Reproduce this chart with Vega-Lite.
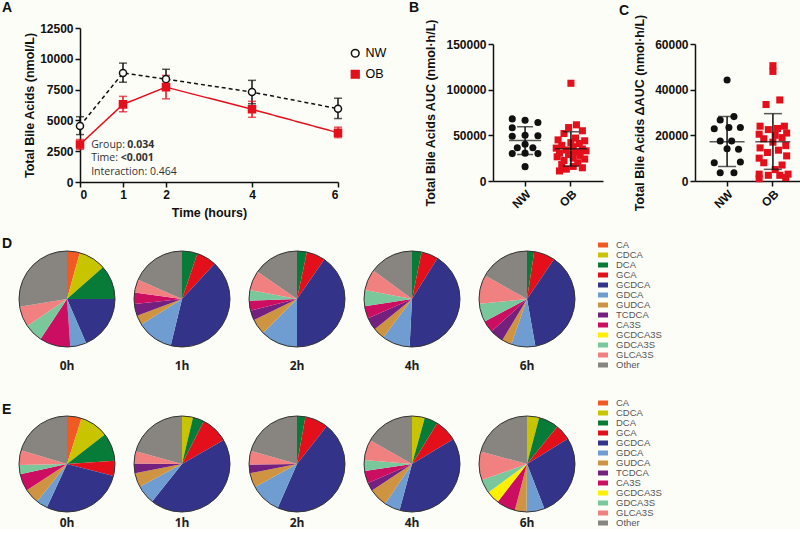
{
"$schema": "https://vega.github.io/schema/vega-lite/v6.json",
"background": "#fdfdf8",
"padding": {"left": 2, "top": 0, "right": 2, "bottom": 0},
"datasets": {
"a": [
{"g":"NW","t":0,"m":4550,"lo":3850,"hi":5300},
{"g":"NW","t":1,"m":8850,"lo":8100,"hi":9650},
{"g":"NW","t":2,"m":8350,"lo":7550,"hi":9150},
{"g":"NW","t":4,"m":7300,"lo":6350,"hi":8250},
{"g":"NW","t":6,"m":5950,"lo":5150,"hi":6800},
{"g":"OB","t":0,"m":3050,"lo":2650,"hi":3450},
{"g":"OB","t":1,"m":6300,"lo":5700,"hi":6950},
{"g":"OB","t":2,"m":7700,"lo":6750,"hi":8650},
{"g":"OB","t":4,"m":5900,"lo":5250,"hi":6550},
{"g":"OB","t":6,"m":4000,"lo":3600,"hi":4450}
],
"annoN": [
{"t":0.26,"v":3000,"txt":"Group:"},
{"t":0.26,"v":1950,"txt":"Time:"},
{"t":0.26,"v":810,"txt":"Interaction: 0.464"}
],
"annoB": [
{"t":1.1,"v":3000,"txt":"0.034"},
{"t":0.95,"v":1950,"txt":"<0.001"}
],
"bp": [
{"g":"NW","v":68000,"j":-0.28},{"g":"NW","v":66500,"j":0},{"g":"NW","v":64000,"j":0.28},
{"g":"NW","v":58400,"j":-0.28},{"g":"NW","v":49000,"j":-0.28},{"g":"NW","v":50000,"j":0},
{"g":"NW","v":49500,"j":0.28},{"g":"NW","v":36500,"j":-0.17},{"g":"NW","v":40200,"j":0},
{"g":"NW","v":36500,"j":0.17},{"g":"NW","v":30000,"j":-0.28},{"g":"NW","v":30500,"j":0},
{"g":"NW","v":30000,"j":0.28},{"g":"NW","v":15700,"j":0},
{"g":"OB","v":107000,"j":0},{"g":"OB","v":61500,"j":0.12},{"g":"OB","v":58500,"j":-0.05},
{"g":"OB","v":55000,"j":0.25},{"g":"OB","v":52000,"j":-0.15},{"g":"OB","v":47000,"j":0.1},
{"g":"OB","v":45000,"j":-0.28},{"g":"OB","v":44000,"j":0.3},{"g":"OB","v":42000,"j":0},
{"g":"OB","v":41000,"j":0.18},{"g":"OB","v":39000,"j":-0.2},{"g":"OB","v":37500,"j":0.05},
{"g":"OB","v":36000,"j":-0.32},{"g":"OB","v":35000,"j":0.25},{"g":"OB","v":34000,"j":-0.1},
{"g":"OB","v":33000,"j":0.33},{"g":"OB","v":31500,"j":0.1},{"g":"OB","v":30500,"j":-0.25},
{"g":"OB","v":29000,"j":-0.05},{"g":"OB","v":28000,"j":0.2},{"g":"OB","v":26500,"j":-0.3},
{"g":"OB","v":25000,"j":0.05},{"g":"OB","v":24000,"j":0.3},{"g":"OB","v":22500,"j":-0.15},
{"g":"OB","v":20000,"j":0.15},{"g":"OB","v":18000,"j":-0.2},{"g":"OB","v":16000,"j":0.05},
{"g":"OB","v":14500,"j":0.25},{"g":"OB","v":13000,"j":-0.1},{"g":"OB","v":11000,"j":-0.25}
],
"bs": [
{"g":"NW","m":44300,"lo":28900,"hi":59500},
{"g":"OB","m":35400,"lo":16300,"hi":53900}
],
"cp": [
{"g":"NW","v":44200,"j":0},{"g":"NW","v":28200,"j":0.15},{"g":"NW","v":26700,"j":-0.15},
{"g":"NW","v":23400,"j":0.04},{"g":"NW","v":23400,"j":0.29},{"g":"NW","v":22900,"j":-0.28},
{"g":"NW","v":17500,"j":-0.15},{"g":"NW","v":17500,"j":0.1},{"g":"NW","v":14100,"j":0},
{"g":"NW","v":13900,"j":0.25},{"g":"NW","v":8000,"j":-0.28},{"g":"NW","v":8300,"j":0.29},
{"g":"NW","v":3650,"j":-0.15},{"g":"NW","v":3650,"j":0.15},
{"g":"OB","v":50500,"j":0},{"g":"OB","v":48000,"j":0},{"g":"OB","v":35500,"j":0.15},
{"g":"OB","v":33500,"j":-0.15},{"g":"OB","v":24000,"j":-0.28},{"g":"OB","v":24000,"j":0.25},
{"g":"OB","v":23000,"j":0.1},{"g":"OB","v":22500,"j":-0.1},{"g":"OB","v":21000,"j":0.3},
{"g":"OB","v":20500,"j":-0.3},{"g":"OB","v":20000,"j":0.05},{"g":"OB","v":19000,"j":0.2},
{"g":"OB","v":18500,"j":-0.2},{"g":"OB","v":17000,"j":0},{"g":"OB","v":15500,"j":0.28},
{"g":"OB","v":14500,"j":-0.28},{"g":"OB","v":13500,"j":0.12},{"g":"OB","v":12500,"j":-0.12},
{"g":"OB","v":11000,"j":0.3},{"g":"OB","v":10000,"j":-0.3},{"g":"OB","v":8000,"j":-0.2},
{"g":"OB","v":7000,"j":0.2},{"g":"OB","v":5000,"j":0.05},{"g":"OB","v":3000,"j":-0.3},
{"g":"OB","v":3000,"j":0.33},{"g":"OB","v":2500,"j":-0.1},{"g":"OB","v":2500,"j":0.15},
{"g":"OB","v":1000,"j":-0.3},{"g":"OB","v":1500,"j":0.28}
],
"cs": [
{"g":"NW","m":17200,"lo":6300,"hi":28300},
{"g":"OB","m":17200,"lo":5100,"hi":29500}
],
"pd": [
{"t":"0h","b":"CA","k":1,"p":4.3},{"t":"0h","b":"CDCA","k":2,"p":9.2},{"t":"0h","b":"DCA","k":3,"p":11.5},{"t":"0h","b":"GCDCA","k":5,"p":18.5},{"t":"0h","b":"GDCA","k":6,"p":5.4},{"t":"0h","b":"CA3S","k":9,"p":10.4},{"t":"0h","b":"GDCA3S","k":11,"p":6.2},{"t":"0h","b":"GLCA3S","k":12,"p":6.9},{"t":"0h","b":"Other","k":13,"p":27.6},
{"t":"1h","b":"DCA","k":3,"p":5.2},{"t":"1h","b":"GCA","k":4,"p":6.7},{"t":"1h","b":"GCDCA","k":5,"p":41.9},{"t":"1h","b":"GDCA","k":6,"p":12.3},{"t":"1h","b":"GUDCA","k":7,"p":3.2},{"t":"1h","b":"TCDCA","k":8,"p":4.0},{"t":"1h","b":"CA3S","k":9,"p":3.9},{"t":"1h","b":"GLCA3S","k":12,"p":4.4},{"t":"1h","b":"Other","k":13,"p":18.4},
{"t":"2h","b":"DCA","k":3,"p":3.3},{"t":"2h","b":"GCA","k":4,"p":6.3},{"t":"2h","b":"GCDCA","k":5,"p":40.4},{"t":"2h","b":"GDCA","k":6,"p":12.5},{"t":"2h","b":"GUDCA","k":7,"p":5.3},{"t":"2h","b":"TCDCA","k":8,"p":3.3},{"t":"2h","b":"CA3S","k":9,"p":3.3},{"t":"2h","b":"GDCA3S","k":11,"p":3.6},{"t":"2h","b":"GLCA3S","k":12,"p":6.6},{"t":"2h","b":"Other","k":13,"p":15.4},
{"t":"4h","b":"DCA","k":3,"p":3.2},{"t":"4h","b":"GCA","k":4,"p":5.7},{"t":"4h","b":"GCDCA","k":5,"p":41.9},{"t":"4h","b":"GDCA","k":6,"p":9.4},{"t":"4h","b":"GUDCA","k":7,"p":4.0},{"t":"4h","b":"TCDCA","k":8,"p":4.2},{"t":"4h","b":"CA3S","k":9,"p":4.2},{"t":"4h","b":"GDCA3S","k":11,"p":5.4},{"t":"4h","b":"GLCA3S","k":12,"p":7.1},{"t":"4h","b":"Other","k":13,"p":14.9},
{"t":"6h","b":"DCA","k":3,"p":2.4},{"t":"6h","b":"GCA","k":4,"p":7.1},{"t":"6h","b":"GCDCA","k":5,"p":37.7},{"t":"6h","b":"GDCA","k":6,"p":8.1},{"t":"6h","b":"GUDCA","k":7,"p":3.3},{"t":"6h","b":"TCDCA","k":8,"p":4.6},{"t":"6h","b":"CA3S","k":9,"p":4.0},{"t":"6h","b":"GDCA3S","k":11,"p":6.2},{"t":"6h","b":"GLCA3S","k":12,"p":9.7},{"t":"6h","b":"Other","k":13,"p":16.9}
],
"pe": [
{"t":"0h","b":"CA","k":1,"p":4.9},{"t":"0h","b":"CDCA","k":2,"p":9.6},{"t":"0h","b":"DCA","k":3,"p":9.4},{"t":"0h","b":"GCA","k":4,"p":5.1},{"t":"0h","b":"GCDCA","k":5,"p":27.9},{"t":"0h","b":"GDCA","k":6,"p":3.8},{"t":"0h","b":"GUDCA","k":7,"p":5.1},{"t":"0h","b":"CA3S","k":9,"p":5.8},{"t":"0h","b":"GDCA3S","k":11,"p":3.1},{"t":"0h","b":"GLCA3S","k":12,"p":4.9},{"t":"0h","b":"Other","k":13,"p":20.4},
{"t":"1h","b":"CDCA","k":2,"p":3.7},{"t":"1h","b":"DCA","k":3,"p":3.8},{"t":"1h","b":"GCA","k":4,"p":9.2},{"t":"1h","b":"GCDCA","k":5,"p":44.0},{"t":"1h","b":"GDCA","k":6,"p":6.4},{"t":"1h","b":"GUDCA","k":7,"p":4.8},{"t":"1h","b":"TCDCA","k":8,"p":3.3},{"t":"1h","b":"GLCA3S","k":12,"p":4.1},{"t":"1h","b":"Other","k":13,"p":20.7},
{"t":"2h","b":"DCA","k":3,"p":2.8},{"t":"2h","b":"GCA","k":4,"p":7.8},{"t":"2h","b":"GCDCA","k":5,"p":46.0},{"t":"2h","b":"GDCA","k":6,"p":10.4},{"t":"2h","b":"GUDCA","k":7,"p":4.9},{"t":"2h","b":"TCDCA","k":8,"p":2.9},{"t":"2h","b":"GLCA3S","k":12,"p":4.6},{"t":"2h","b":"Other","k":13,"p":20.6},
{"t":"4h","b":"CDCA","k":2,"p":4.3},{"t":"4h","b":"DCA","k":3,"p":4.5},{"t":"4h","b":"GCA","k":4,"p":7.6},{"t":"4h","b":"GCDCA","k":5,"p":37.8},{"t":"4h","b":"GDCA","k":6,"p":5.3},{"t":"4h","b":"GUDCA","k":7,"p":6.2},{"t":"4h","b":"TCDCA","k":8,"p":2.8},{"t":"4h","b":"CA3S","k":9,"p":4.2},{"t":"4h","b":"GDCA3S","k":11,"p":3.6},{"t":"4h","b":"GLCA3S","k":12,"p":6.9},{"t":"4h","b":"Other","k":13,"p":16.8},
{"t":"6h","b":"CDCA","k":2,"p":4.1},{"t":"6h","b":"DCA","k":3,"p":6.7},{"t":"6h","b":"GCA","k":4,"p":5.4},{"t":"6h","b":"GCDCA","k":5,"p":27.9},{"t":"6h","b":"GDCA","k":6,"p":6.1},{"t":"6h","b":"GUDCA","k":7,"p":3.9},{"t":"6h","b":"CA3S","k":9,"p":6.4},{"t":"6h","b":"GCDCA3S","k":10,"p":4.4},{"t":"6h","b":"GDCA3S","k":11,"p":4.7},{"t":"6h","b":"GLCA3S","k":12,"p":9.6},{"t":"6h","b":"Other","k":13,"p":20.8}
]
},
"concat": [
{
"concat": [
{
"title": {"text": "A", "anchor": "start", "frame": "group", "dx": -15, "offset": 7},
"width": 321, "height": 154,
"encoding": {
  "x": {"field": "t", "type": "quantitative", "scale": {"domain": [0, 6], "range": [63, 321]}, "axis": {"values": [0, 1, 2, 4, 6], "title": "Time (hours)", "titlePadding": 6, "titleX": 192}},
  "y": {"field": "m", "type": "quantitative", "scale": {"domain": [0, 12500]}, "axis": {"values": [0, 2500, 5000, 7500, 10000, 12500], "format": "d", "title": "Total Bile Acids (nmol/L)", "titlePadding": 3, "labelOverlap": false, "offset": -63}}
},
"layer": [
{"data": {"name": "a"}, "mark": {"type": "line", "strokeWidth": 1.5},
 "encoding": {
  "detail": {"field": "g", "type": "nominal"},
  "color": {"condition": {"test": "datum.g === 'NW'", "value": "#111111"}, "value": "#e3101c"},
  "strokeDash": {"condition": {"test": "datum.g === 'NW'", "value": [4, 3]}, "value": [1, 0]}
 }},
{"data": {"name": "a"}, "mark": {"type": "rule", "strokeWidth": 1.5},
 "encoding": {
  "y": {"field": "lo", "type": "quantitative"},
  "y2": {"field": "hi"},
  "color": {"condition": {"test": "datum.g === 'NW'", "value": "#111111"}, "value": "#e3101c"}
 }},
{"data": {"name": "a"}, "mark": {"type": "tick", "orient": "horizontal", "size": 8, "thickness": 1.5},
 "encoding": {
  "y": {"field": "lo", "type": "quantitative"},
  "color": {"condition": {"test": "datum.g === 'NW'", "value": "#111111"}, "value": "#e3101c"}
 }},
{"data": {"name": "a"}, "mark": {"type": "tick", "orient": "horizontal", "size": 8, "thickness": 1.5},
 "encoding": {
  "y": {"field": "hi", "type": "quantitative"},
  "color": {"condition": {"test": "datum.g === 'NW'", "value": "#111111"}, "value": "#e3101c"}
 }},
{"data": {"name": "a"}, "mark": {"type": "point", "filled": false, "size": 50, "strokeWidth": 1.5, "opacity": 1, "fillOpacity": 1},
 "encoding": {
  "color": {"field": "g", "type": "nominal", "scale": {"domain": ["NW", "OB"], "range": ["#111111", "#e3101c"]}, "legend": {"orient": "none", "legendX": 332, "legendY": 19, "title": null, "labelFontSize": 12.5, "symbolSize": 60, "rowPadding": 6, "symbolStrokeWidth": 1.5}},
  "shape": {"field": "g", "type": "nominal", "scale": {"domain": ["NW", "OB"], "range": ["circle", "square"]}, "legend": {"orient": "none", "legendX": 332, "legendY": 19, "title": null, "labelFontSize": 12.5, "symbolSize": 60, "rowPadding": 6, "symbolStrokeWidth": 1.5}},
  "fill": {"field": "g", "type": "nominal", "scale": {"domain": ["NW", "OB"], "range": ["#fdfdf8", "#e3101c"]}, "legend": {"orient": "none", "legendX": 332, "legendY": 19, "title": null, "labelFontSize": 12.5, "symbolSize": 60, "rowPadding": 6, "symbolStrokeWidth": 1.5}}
 }},
{"data": {"name": "annoN"}, "mark": {"type": "text", "align": "left", "baseline": "middle", "font": "Open Sans", "fontSize": 10.5, "color": "#333333"},
 "encoding": {"y": {"field": "v", "type": "quantitative"}, "text": {"field": "txt"}}},
{"data": {"name": "annoB"}, "mark": {"type": "text", "align": "left", "baseline": "middle", "font": "Open Sans", "fontSize": 10.5, "fontWeight": "bold", "color": "#333333"},
 "encoding": {"y": {"field": "v", "type": "quantitative"}, "text": {"field": "txt"}}}
]
},
{
"concat": [
{
"title": {"text": "B", "anchor": "start", "frame": "group", "dx": -84, "offset": 4},
"width": 110, "height": 153,
"encoding": {
  "x": {"field": "g", "type": "nominal", "scale": {"domain": ["NW", "OB"], "paddingInner": 0, "paddingOuter": 0.2}, "axis": {"title": null, "labelAngle": -45}},
  "y": {"field": "v", "type": "quantitative", "scale": {"domain": [0, 150000], "range": [153, 16]}, "axis": {"values": [0, 50000, 100000, 150000], "format": "d", "title": "Total Bile Acids AUC (nmol·h/L)", "titlePadding": 8, "titleY": 84.5}}
},
"layer": [
{"data": {"name": "bp"}, "mark": {"type": "point", "filled": true, "size": 50, "opacity": 1},
 "encoding": {
  "xOffset": {"field": "j", "type": "quantitative", "scale": {"domain": [-0.5, 0.5]}},
  "color": {"field": "g", "type": "nominal", "scale": {"domain": ["NW", "OB"], "range": ["#111111", "#e3101c"]}, "legend": null},
  "shape": {"field": "g", "type": "nominal", "scale": {"domain": ["NW", "OB"], "range": ["circle", "square"]}, "legend": null}
 }},
{"data": {"name": "bs"}, "mark": {"type": "errorbar", "thickness": 1.5, "color": "#111111", "ticks": {"size": 16, "thickness": 1.5}},
 "encoding": {"y": {"field": "lo", "type": "quantitative"}, "y2": {"field": "hi"}}},
{"data": {"name": "bs"}, "mark": {"type": "tick", "size": 32, "thickness": 1.5, "color": "#111111"},
 "encoding": {"y": {"field": "m", "type": "quantitative"}}}
]
},
{
"title": {"text": "C", "anchor": "start", "frame": "group", "dx": -76, "offset": -4},
"width": 110, "height": 153,
"encoding": {
  "x": {"field": "g", "type": "nominal", "scale": {"domain": ["NW", "OB"], "paddingInner": 0, "paddingOuter": 0.2}, "axis": {"title": null, "labelAngle": -45}},
  "y": {"field": "v", "type": "quantitative", "scale": {"domain": [0, 60000], "range": [153, 16]}, "axis": {"values": [0, 20000, 40000, 60000], "format": "d", "title": "Total Bile Acids ΔAUC (nmol·h/L)", "titlePadding": 8, "titleY": 84.5}}
},
"layer": [
{"data": {"name": "cp"}, "mark": {"type": "point", "filled": true, "size": 50, "opacity": 1},
 "encoding": {
  "xOffset": {"field": "j", "type": "quantitative", "scale": {"domain": [-0.5, 0.5]}},
  "color": {"field": "g", "type": "nominal", "scale": {"domain": ["NW", "OB"], "range": ["#111111", "#e3101c"]}, "legend": null},
  "shape": {"field": "g", "type": "nominal", "scale": {"domain": ["NW", "OB"], "range": ["circle", "square"]}, "legend": null}
 }},
{"data": {"name": "cs"}, "mark": {"type": "errorbar", "thickness": 1.5, "color": "#111111", "ticks": {"size": 18, "thickness": 1.5}},
 "encoding": {"y": {"field": "lo", "type": "quantitative"}, "y2": {"field": "hi"}}},
{"data": {"name": "cs"}, "mark": {"type": "tick", "size": 35, "thickness": 1.5, "color": "#111111"},
 "encoding": {"y": {"field": "m", "type": "quantitative"}}}
]
}
],
"columns": 2,
"align": "none",
"spacing": {"column": 16, "row": 0},
"resolve": {"scale": {"color": "independent", "shape": "independent", "x": "independent", "y": "independent"}, "legend": {"color": "independent", "shape": "independent"}}
}
],
"columns": 2,
"align": "none",
"spacing": {"column": 22, "row": 0},
"resolve": {"scale": {"color": "independent", "shape": "independent", "fill": "independent"}, "legend": {"color": "independent", "shape": "independent", "fill": "independent"}}
},
{
"concat": [
{
"data": {"name": "pd"},
"title": {"text": "D", "anchor": "start", "frame": "group", "dx": -15, "offset": -11},
"facet": {"column": {"field": "t", "type": "nominal", "title": null, "sort": ["0h", "1h", "2h", "4h", "6h"], "header": {"labelOrient": "bottom", "labelFont": "Open Sans", "labelFontWeight": "bold", "labelFontSize": 12, "labelPadding": 12, "labelColor": "#222222"}}},
"spacing": 15,
"spec": {
"width": 100, "height": 98,
"layer": [
{"mark": {"type": "arc", "outerRadius": 48},
 "encoding": {
  "theta": {"field": "p", "type": "quantitative", "stack": true},
  "order": {"field": "k", "type": "quantitative"},
  "color": {"field": "b", "type": "nominal", "scale": {"domain": ["CA","CDCA","DCA","GCA","GCDCA","GDCA","GUDCA","TCDCA","CA3S","GCDCA3S","GDCA3S","GLCA3S","Other"], "range": ["#f15a22","#c9c400","#077b38","#e3101c","#333489","#6f9dd2","#cf9441","#74207f","#cc0e63","#fff000","#7ac79b","#f18181","#888580"]},
   "legend": {"title": null, "orient": "none", "legendX": 581, "legendY": -10, "symbolType": "M-1,-0.5H1V0.5H-1Z", "symbolSize": 100, "labelFontSize": 9.5, "labelColor": "#555555", "rowPadding": 0, "symbolStrokeWidth": 0, "labelOffset": 8}}
 }},
{"mark": {"type": "arc", "outerRadius": 48, "fillOpacity": 0, "stroke": "#333333", "strokeWidth": 1},
 "encoding": {"theta": {"field": "p", "type": "quantitative", "aggregate": "sum"}}}
]
}
},
{
"data": {"name": "pe"},
"title": {"text": "E", "anchor": "start", "frame": "group", "dx": -15, "offset": -19},
"facet": {"column": {"field": "t", "type": "nominal", "title": null, "sort": ["0h", "1h", "2h", "4h", "6h"], "header": {"labelOrient": "bottom", "labelFont": "Open Sans", "labelFontWeight": "bold", "labelFontSize": 12, "labelPadding": 4, "labelColor": "#222222"}}},
"spacing": 15,
"spec": {
"width": 100, "height": 98,
"layer": [
{"mark": {"type": "arc", "outerRadius": 48},
 "encoding": {
  "theta": {"field": "p", "type": "quantitative", "stack": true},
  "order": {"field": "k", "type": "quantitative"},
  "color": {"field": "b", "type": "nominal", "scale": {"domain": ["CA","CDCA","DCA","GCA","GCDCA","GDCA","GUDCA","TCDCA","CA3S","GCDCA3S","GDCA3S","GLCA3S","Other"], "range": ["#f15a22","#c9c400","#077b38","#e3101c","#333489","#6f9dd2","#cf9441","#74207f","#cc0e63","#fff000","#7ac79b","#f18181","#888580"]},
   "legend": {"title": null, "orient": "none", "legendX": 581, "legendY": -17, "symbolType": "M-1,-0.5H1V0.5H-1Z", "symbolSize": 100, "labelFontSize": 9.5, "labelColor": "#555555", "rowPadding": 0, "symbolStrokeWidth": 0, "labelOffset": 8}}
 }},
{"mark": {"type": "arc", "outerRadius": 48, "fillOpacity": 0, "stroke": "#333333", "strokeWidth": 1},
 "encoding": {"theta": {"field": "p", "type": "quantitative", "aggregate": "sum"}}}
]
}
}
],
"columns": 1,
"align": "none",
"spacing": {"row": 26, "column": 0},
"resolve": {"scale": {"color": "independent"}, "legend": {"color": "independent"}}
}
],
"columns": 1,
"align": "none",
"spacing": {"row": 18, "column": 0},
"resolve": {"scale": {"color": "independent", "shape": "independent", "fill": "independent"}, "legend": {"color": "independent", "shape": "independent", "fill": "independent"}},
"config": {
"view": {"stroke": null},
"font": "Liberation Sans",
"axis": {"domainColor": "#111111", "domainWidth": 1.5, "tickColor": "#111111", "tickWidth": 1.5, "tickSize": 5, "labelFont": "Liberation Sans", "labelFontWeight": "bold", "labelFontSize": 12, "labelColor": "#111111", "labelPadding": 2, "titleFont": "Liberation Sans", "titleFontWeight": "bold", "titleFontSize": 12.5, "titleColor": "#111111", "grid": false},
"title": {"font": "Liberation Sans", "fontWeight": "bold", "fontSize": 14, "color": "#111111"},
"legend": {"labelFont": "Liberation Sans"}
}
}
